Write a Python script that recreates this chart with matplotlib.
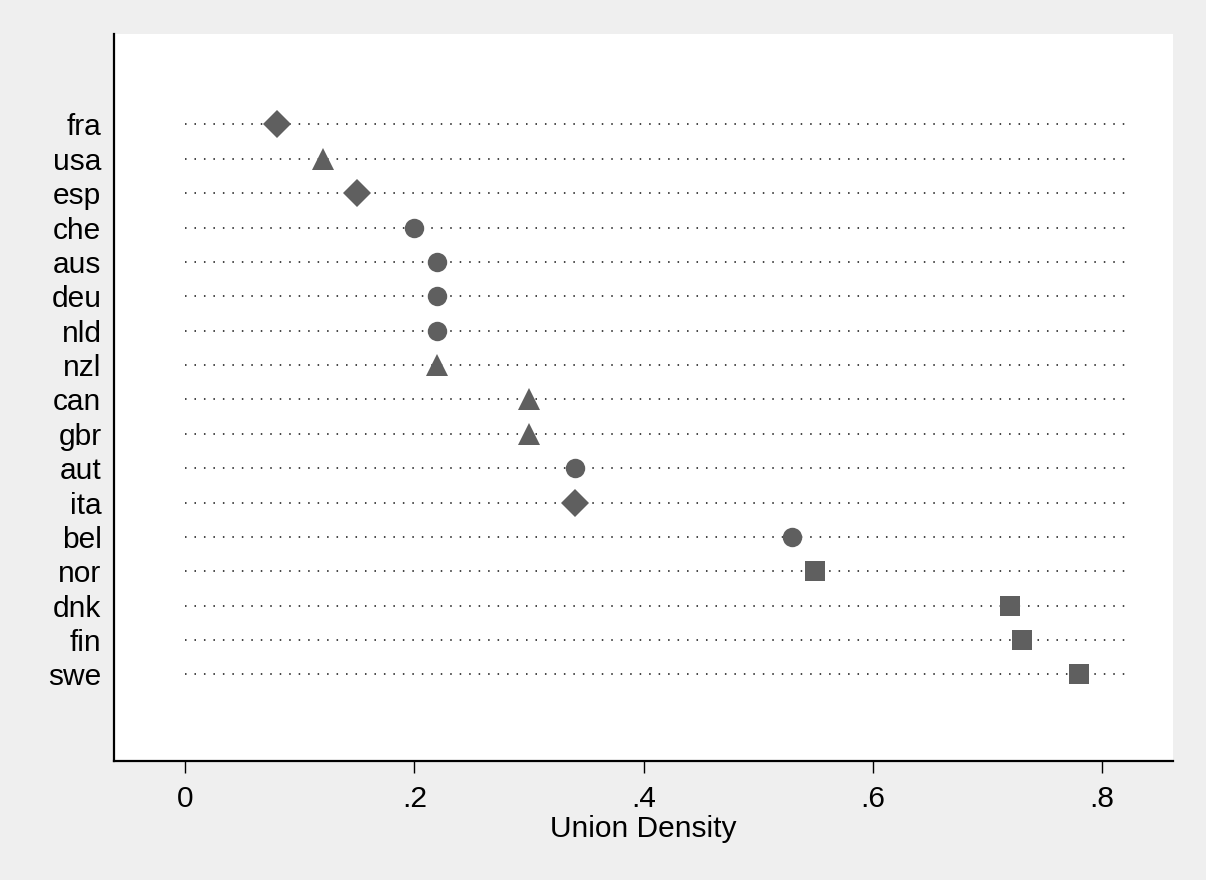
import matplotlib
matplotlib.use("Agg")
import matplotlib.pyplot as plt

countries = ["fra", "usa", "esp", "che", "aus", "deu", "nld", "nzl", "can",
             "gbr", "aut", "ita", "bel", "nor", "dnk", "fin", "swe"]
density = [0.08, 0.12, 0.15, 0.20, 0.22, 0.22, 0.22, 0.22, 0.30,
           0.30, 0.34, 0.34, 0.53, 0.55, 0.72, 0.73, 0.78]
group = [3, 2, 3, 1, 1, 1, 1, 2, 2, 2, 1, 3, 1, 4, 4, 4, 4]
xticks = [0, 0.2, 0.4, 0.6, 0.8]
xticklabels = ["0", ".2", ".4", ".6", ".8"]

marker_style = {1: ("o", 14), 2: ("^", 15.5), 3: ("D", 14.5), 4: ("s", 13.8)}
mcolor = "#5f5f5f"

plt.rcParams["font.family"] = ["Liberation Sans", "DejaVu Sans"]

W, H = 1206, 880
fig = plt.figure(figsize=(W / 100, H / 100), dpi=100, facecolor="#efefef")
ax = fig.add_axes([114 / W, 1 - 761 / H, (1173 - 114) / W, (761 - 34) / H])
ax.set_facecolor("white")

ypos = list(range(len(countries)))
for y in ypos:
    ax.plot([0, 0.82], [y, y], color="#111111", lw=1.1,
            linestyle=(0, (1, 5.2)), zorder=1)

for y, v, g in zip(ypos, density, group):
    m, ms = marker_style[g]
    ax.plot([v], [y], marker=m, markersize=ms, color=mcolor,
            markeredgewidth=0, linestyle="none", zorder=3)

ax.set_xlim(-0.062, 0.862)
ax.set_ylim(18.52, -2.63)
ax.set_yticks(ypos)
ax.set_yticklabels(countries)
ax.set_xticks(xticks)
ax.set_xticklabels(xticklabels)
ax.tick_params(axis="y", length=0, pad=9, labelsize=21.5)
ax.tick_params(axis="x", length=8.6, width=1, pad=9, labelsize=21.5, color="black")
ax.set_xlabel("Union Density", fontsize=21.5, labelpad=1)

for s in ["top", "right"]:
    ax.spines[s].set_visible(False)
for s in ["left", "bottom"]:
    ax.spines[s].set_linewidth(1.6)
    ax.spines[s].set_color("black")

fig.savefig("out.png", dpi=100, facecolor=fig.get_facecolor())
